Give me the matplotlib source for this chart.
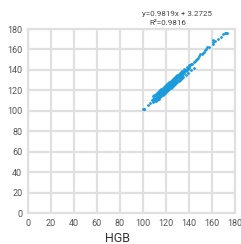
import matplotlib
matplotlib.use("Agg")
import matplotlib.pyplot as plt

# HGB scatter values
hgb_x = [100, 101, 100.5, 104, 106,
         108, 108.5, 109, 109.5, 110, 110, 110.5, 111, 111, 111.5, 112, 112, 112.5,
         113, 113, 113.5, 114, 114, 114.5, 115, 115, 115.5, 116, 116, 116.5,
         117, 117, 117.5, 118, 118, 118.5, 119, 119, 119.5, 120, 120, 120.5,
         121, 121, 121.5, 122, 122, 122.5, 123, 123, 123.5, 124, 124, 124.5,
         125, 125, 125.5, 126, 126, 126.5, 127, 127, 127.5, 128, 128, 128.5,
         129, 129, 129.5, 130, 130, 130.5, 131, 131, 131.5, 132, 132, 132.5,
         133, 133, 133.5, 134, 134, 135, 135, 136, 136, 137, 137, 138, 138,
         139, 139, 140, 140, 141, 142, 143, 144, 145, 146, 147, 148, 149,
         150, 151, 152, 153, 154, 155, 156, 157, 161, 161, 161, 163, 165,
         168, 170, 171, 172, 173,
         110, 112, 114, 116, 118, 120, 122, 124, 126, 128, 130, 132, 134,
         111, 113, 115, 117, 119, 121, 123, 125, 127, 129, 131, 133, 135,
         109, 111, 113, 115, 117, 119, 121, 123, 125, 127, 129, 131, 133, 136, 138, 140,
         112, 114, 116, 118, 120, 122, 124, 126, 128, 130, 132, 134, 137, 139, 142, 144]
hgb_y = [102, 102, 101.5, 106, 108,
         111, 109, 112, 110, 113, 110.5, 112, 114, 111, 112.5, 115, 112, 113.5,
         116, 113, 114.5, 117, 114, 116, 118, 115, 117, 119, 116, 118,
         120, 117.5, 119, 121, 118, 120, 122, 119.5, 121, 123, 120, 122,
         125, 121.5, 123, 124, 122, 126, 125, 123, 127, 126, 124, 128,
         127, 125, 129, 128, 126, 130, 129, 127.5, 131, 130, 128.5, 132,
         131, 130, 133, 132, 130.5, 134, 133, 132, 135, 134, 133, 136,
         135, 134, 137, 136, 135, 138, 136, 139, 137, 140, 138.5, 141, 139.5,
         142, 140.5, 143, 142, 145, 146, 146, 148, 149, 150, 151, 152, 154,
         156, 156, 157, 158, 159, 160, 162, 162, 165, 167, 169, 168, 170,
         172, 175, 176, 176, 176,
         115, 117, 119, 121, 123, 125, 127, 129, 131, 133, 135, 137, 139,
         110, 112, 113.5, 115.5, 117.5, 119, 121.5, 123, 125, 127.5, 129, 131, 133,
         114, 116, 118, 120, 122, 124, 126, 128, 130, 132, 134, 136, 138, 141, 143, 145,
         110.5, 112, 114.5, 116, 118.5, 120, 122.5, 124, 126.5, 128, 130.5, 132, 135, 137, 140, 142]

ticks = [0, 20, 40, 60, 80, 100, 120, 140, 160, 180]
eq_text = "y=0.9819x + 3.2725"
r2_text = "R²=0.9816"

plt.rcParams["font.family"] = ["Roboto", "DejaVu Sans"]

fig = plt.figure(figsize=(2.41, 2.44), dpi=100)
ax = fig.add_axes([0.116, 0.127, 0.859, 0.754])

ax.scatter(hgb_x, hgb_y, s=4, color="#1a9bdb", linewidths=0, zorder=3)

ax.set_xlim(0, 180)
ax.set_ylim(0, 180)
ax.set_xticks(ticks)
ax.set_yticks(ticks)
ax.tick_params(length=0, labelsize=6.5, labelcolor="#555555", pad=4)
ax.grid(True, color="#e0e0e0", linewidth=1.6)
for sp in ax.spines.values():
    sp.set_color("#e0e0e0")
    sp.set_linewidth(1.6)
ax.set_axisbelow(True)

fig.text(177 / 241, 1 - 14 / 244, eq_text, ha="center", va="center",
         fontsize=5.8, color="#444444")
fig.text(168 / 241, 1 - 23 / 244, r2_text, ha="center", va="center",
         fontsize=5.8, color="#444444")
fig.text(118 / 241, 1 - 239 / 244, "HGB", ha="center", va="center",
         fontsize=9, color="#333333")

fig.savefig("out.png", dpi=100)
